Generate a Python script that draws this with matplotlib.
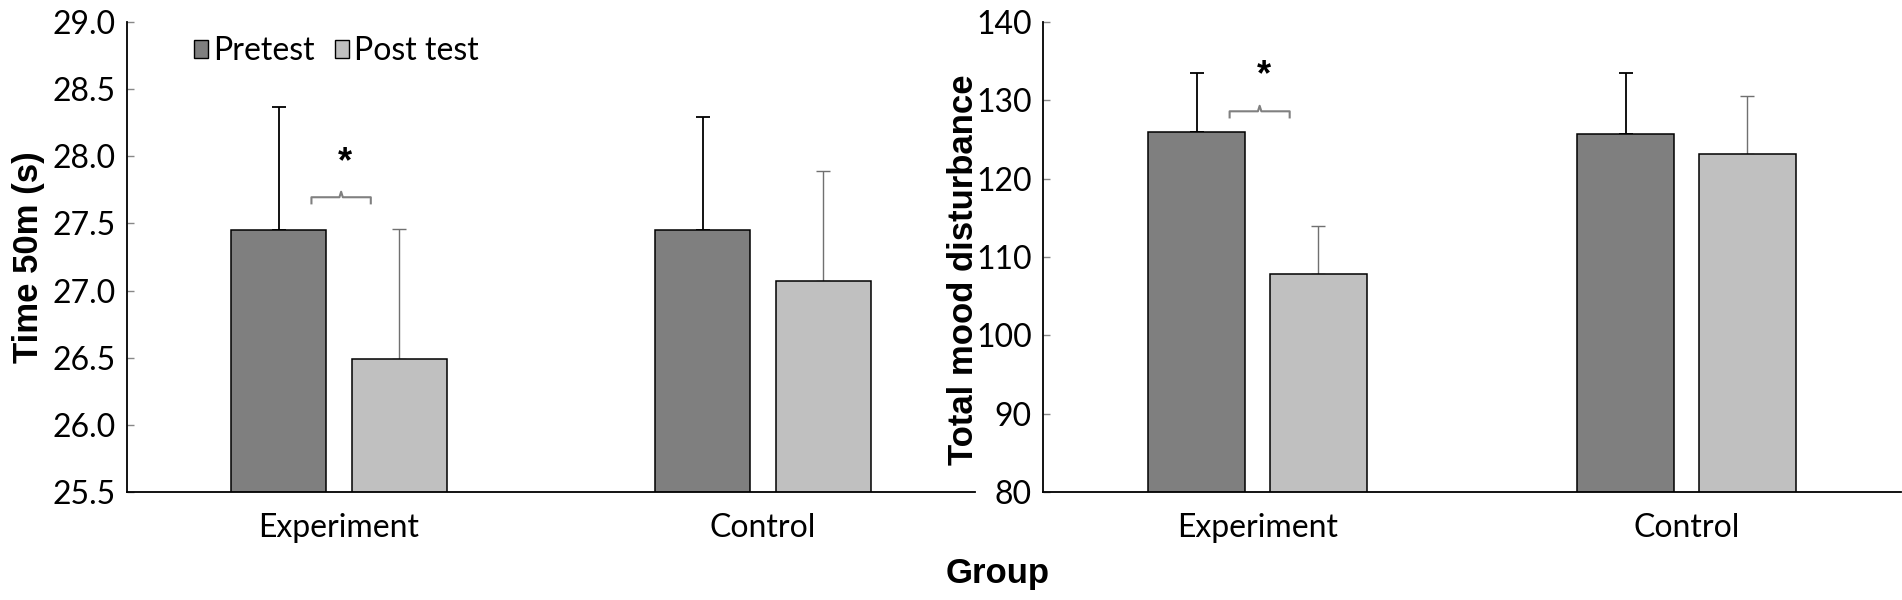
import matplotlib
matplotlib.use("Agg")
import matplotlib.pyplot as plt
from matplotlib.patches import Patch
import numpy as np

# ---- data ----
groups = ["Experiment", "Control"]
series = ["Pretest", "Post test"]

time_pre = [27.45, 27.45]
time_pre_sd = [0.92, 0.84]
time_post = [26.49, 27.07]
time_post_sd = [0.97, 0.82]

mood_pre = [125.9, 125.7]
mood_pre_sd = [7.6, 7.8]
mood_post = [107.8, 123.1]
mood_post_sd = [6.1, 7.4]

time_ticks = [25.5, 26.0, 26.5, 27.0, 27.5, 28.0, 28.5, 29.0]
mood_ticks = [80, 90, 100, 110, 120, 130, 140]

# ---- style ----
W, H = 1902, 600
fig = plt.figure(figsize=(W / 100, H / 100), dpi=100)
TICKFONT = "Lato"
LABELFONT = "Liberation Sans"
PRE_COLOR = "#7f7f7f"
POST_COLOR = "#c0c0c0"
BW = 0.225
OFF = 0.142

ax1 = fig.add_axes([127 / W, 1 - 492 / H, 848 / W, 470 / H])
ax2 = fig.add_axes([1043 / W, 1 - 492 / H, 858 / W, 470 / H])


def draw(ax, pre, pre_sd, post, post_sd, ticks, fmt, ylabel, label_x, label_y, star_dy, br_dy):
    x = np.arange(len(groups))
    ax.bar(x - OFF, pre, BW, color=PRE_COLOR, edgecolor="black", linewidth=1.1,
           zorder=2, label=series[0])
    ax.bar(x + OFF, post, BW, color=POST_COLOR, edgecolor="black", linewidth=1.1,
           zorder=2, label=series[1])
    ax.errorbar(x - OFF, pre, yerr=[np.zeros(len(pre)), pre_sd], fmt="none",
                ecolor="black", elinewidth=1.3, capsize=5, capthick=1.3, zorder=1)
    ax.errorbar(x + OFF, post, yerr=[np.zeros(len(post)), post_sd], fmt="none",
                ecolor="#707070", elinewidth=1.0, capsize=5, capthick=1.0, zorder=1)
    ax.set_xlim(-0.5, 1.5)
    ax.set_ylim(ticks[0], ticks[-1])
    ax.set_yticks(ticks)
    ax.set_yticklabels([fmt.format(t) for t in ticks], fontfamily=TICKFONT, fontsize=23)
    ax.set_xticks(x)
    ax.set_xticklabels(groups, fontfamily=TICKFONT, fontsize=23)
    ax.tick_params(axis="x", length=0, pad=15)
    ax.tick_params(axis="y", direction="in", length=5, width=1, color="#888888", pad=8)
    for s in ["top", "right"]:
        ax.spines[s].set_visible(False)
    for s in ["left", "bottom"]:
        ax.spines[s].set_linewidth(1.3)
        ax.spines[s].set_color("black")
    ax.set_ylabel(ylabel, fontfamily=LABELFONT, fontweight="bold", fontsize=25)
    ax.yaxis.set_label_coords(label_x, label_y)

    # significance bracket for Experiment group
    g = 0
    yb = pre[g] + br_dy
    span = (ticks[-1] - ticks[0])
    hook = span * 0.013
    x0, x1 = g - 0.065, g + 0.075
    xm = (x0 + x1) / 2
    ax.plot([x0, x0, xm - 0.004, xm, xm + 0.004, x1, x1],
            [yb - hook, yb, yb, yb + hook * 0.9, yb, yb, yb - hook],
            color="#808080", lw=1.5, zorder=3, solid_joinstyle="round")
    ax.text(xm + 0.01, pre[g] + star_dy, "*", ha="center", va="center",
            fontsize=26, fontweight="bold", fontfamily=LABELFONT)


draw(ax1, time_pre, time_pre_sd, time_post, time_post_sd, time_ticks, "{:.1f}",
     "Time 50m (s)", -0.097, 0.5, 0.50, 0.245)
draw(ax2, mood_pre, mood_pre_sd, mood_post, mood_post_sd, mood_ticks, "{:.0f}",
     "Total mood disturbance", -0.074, 0.472, 7.3, 2.7)

handles = [Patch(facecolor=PRE_COLOR, edgecolor="black", linewidth=1.0),
           Patch(facecolor=POST_COLOR, edgecolor="black", linewidth=1.0)]
leg = ax1.legend(handles, series, loc="center left", bbox_to_anchor=(0.079, 0.938),
                 ncol=2, frameon=False, borderpad=0, borderaxespad=0,
                 handlelength=0.44, handleheight=0.47, handletextpad=0.15,
                 columnspacing=0.65, prop={"family": TICKFONT, "size": 23})

fig.text(998 / W, 1 - 583 / H, "Group", ha="center", va="baseline",
         fontfamily=LABELFONT, fontweight="bold", fontsize=25)

fig.savefig("out.png", dpi=100)
